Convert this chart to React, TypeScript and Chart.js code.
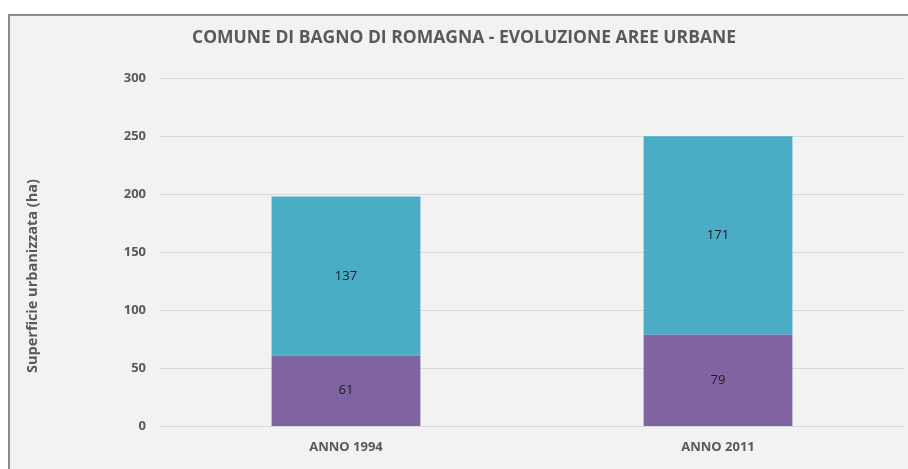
import React, { useEffect, useRef } from "react";
import { Chart, registerables } from "chart.js";

Chart.register(...registerables);

const categories = ["ANNO 1994", "ANNO 2011"];
const baseSeries = [61, 79];
const topSeries = [137, 171];
const yTicks = [0, 50, 100, 150, 200, 250, 300];
const titleText = "COMUNE DI BAGNO DI ROMAGNA - EVOLUZIONE AREE URBANE";
const yTitle = "Superficie urbanizzata (ha)";

const FONT = "'Open Sans', 'DejaVu Sans', sans-serif";
const GREY = "#595959";

const valueLabels = {
  id: "valueLabels",
  afterDatasetsDraw(chart: any) {
    const ctx = chart.ctx;
    ctx.save();
    ctx.font = `normal 13px ${FONT}`;
    ctx.fillStyle = "#1a1a1a";
    ctx.textAlign = "center";
    ctx.textBaseline = "middle";
    chart.data.datasets.forEach((ds: any, i: number) => {
      const meta = chart.getDatasetMeta(i);
      meta.data.forEach((el: any, j: number) => {
        const p = el.getCenterPoint();
        ctx.fillText(String(ds.data[j]), p.x, p.y);
      });
    });
    ctx.restore();
  },
};

// Axis title centred on the whole chart box height (as the spreadsheet does)
const axisTitle = {
  id: "axisTitle",
  afterDraw(chart: any) {
    const ctx = chart.ctx;
    ctx.save();
    ctx.font = `bold 14.5px ${FONT}`;
    ctx.fillStyle = GREY;
    ctx.textAlign = "center";
    ctx.textBaseline = "middle";
    ctx.translate(23, chart.height / 2);
    ctx.rotate(-Math.PI / 2);
    ctx.fillText(yTitle, 0, 0);
    ctx.restore();
  },
};

export default function App() {
  const ref = useRef<HTMLCanvasElement>(null);
  useEffect(() => {
    if (!ref.current) return;
    const chart = new Chart(ref.current, {
      type: "bar",
      data: {
        labels: categories,
        datasets: [
          {
            label: "base",
            data: baseSeries,
            backgroundColor: "#8064A2",
            borderWidth: 0,
          },
          {
            label: "top",
            data: topSeries,
            backgroundColor: "#4BACC6",
            borderWidth: 0,
          },
        ],
      },
      options: {
        animation: false,
        responsive: false,
        maintainAspectRatio: false,
        layout: { padding: { left: 14, right: 16, top: 0, bottom: 68 } },
        datasets: {
          bar: { categoryPercentage: 1, barPercentage: 0.4 },
        },
        plugins: {
          legend: { display: false },
          tooltip: { enabled: false },
          title: {
            display: true,
            text: titleText,
            color: GREY,
            font: { family: FONT, size: 17.5, weight: "bold" },
            padding: { top: 11.5, bottom: 29.7 },
          },
        },
        scales: {
          x: {
            stacked: true,
            grid: { display: false, drawTicks: false },
            border: { display: false },
            ticks: {
              color: GREY,
              padding: 13,
              font: { family: FONT, size: 13, weight: "bold" },
            },
          },
          y: {
            stacked: true,
            min: 0,
            max: 300,
            afterBuildTicks: (scale: any) => {
              scale.ticks = yTicks.map((v) => ({ value: v }));
            },
            afterFit: (scale: any) => {
              scale.width = 136;
            },
            grid: { color: "#d9d9d9", drawTicks: false, lineWidth: 1 },
            border: { display: false },
            ticks: {
              color: GREY,
              padding: 14,
              font: { family: FONT, size: 13, weight: "bold" },
            },
            title: { display: false },
          },
        },
      },
      plugins: [valueLabels, axisTitle],
    });
    return () => chart.destroy();
  }, []);

  return (
    <div
      style={{
        position: "fixed",
        left: 8,
        top: 14,
        width: 930,
        height: 530,
        background: "#f2f2f2",
        borderTop: "2px solid #8c8c8c",
        borderLeft: "2px solid #8c8c8c",
        overflow: "hidden",
      }}
    >
      <canvas
        ref={ref}
        width={910}
        height={520}
        style={{ display: "block", width: 910, height: 520 }}
      />
    </div>
  );
}
